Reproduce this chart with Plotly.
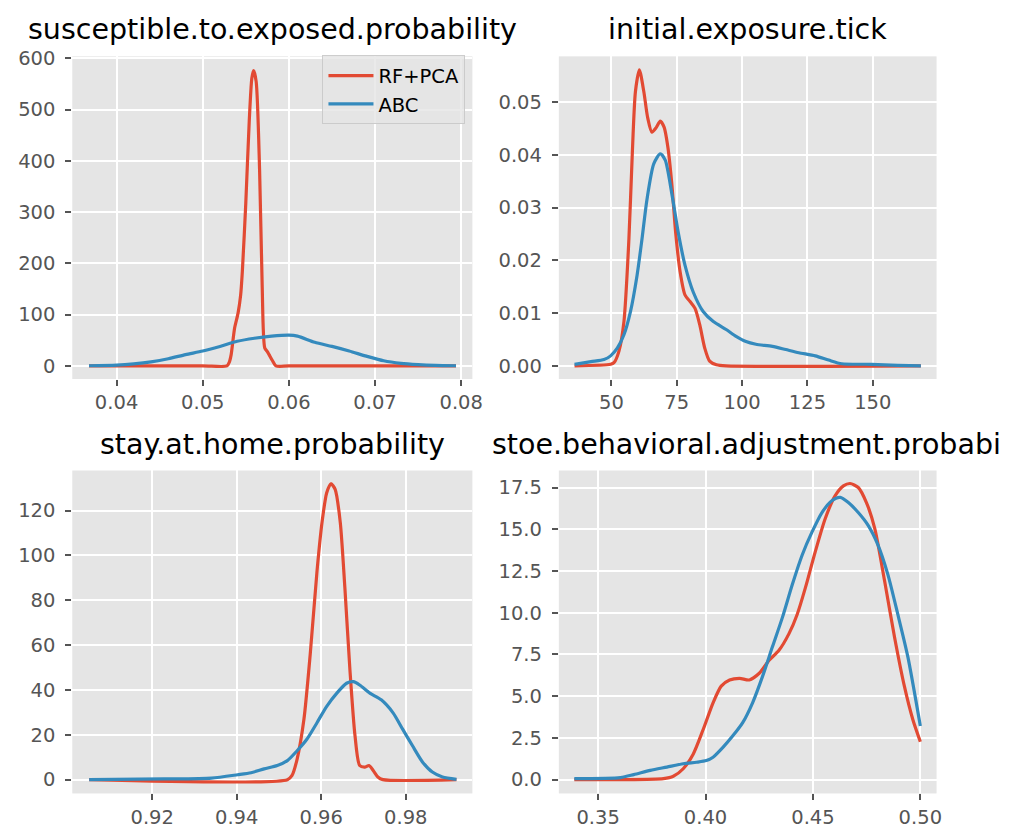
import plotly.graph_objects as go

W, H = 1035, 829
RED = "#E24A33"
BLUE = "#348ABD"

# Panel titles as they appear (the last one is cut short in the source figure)
titles = ["susceptible.to.exposed.probability", "initial.exposure.tick",
          "stay.at.home.probability", "stoe.behavioral.adjustment.probabi"]
series_names = ["RF+PCA", "ABC"]

# Panel 1: susceptible.to.exposed.probability
p1_rf_x = [0.0368, 0.0500, 0.0528, 0.0531, 0.0533, 0.0537, 0.0541, 0.0544, 0.0546, 0.0550,
           0.0554, 0.0557, 0.0559, 0.0562, 0.0566, 0.0569, 0.0572, 0.0575, 0.0577, 0.0581,
           0.0585, 0.0600, 0.0794]
p1_rf_y = [0, 0, 0, 8, 22, 74, 103, 138, 185, 318, 478, 561, 576, 555, 382, 157, 35, 28, 22, 10,
           0, 0, 0]
p1_abc_x = [0.0368, 0.040, 0.042, 0.044, 0.046, 0.048, 0.050, 0.052, 0.054, 0.056, 0.058, 0.060,
            0.061, 0.063, 0.065, 0.067, 0.069, 0.071, 0.073, 0.075, 0.077, 0.0794]
p1_abc_y = [0.3, 1.5, 4, 8, 14, 22, 29, 38, 48, 54, 58, 60, 58, 46, 38, 29, 19, 10, 5, 2.5, 1, 0.3]

# Panel 2: initial.exposure.tick
p2_rf_x = [35.9, 49.7, 51.0, 52.9, 54.8, 56.7, 57.95, 59.2, 60.7, 62.4, 63.9, 65.5, 67.2, 68.7,
           70.2, 71.6, 73.1, 74.6, 76.3, 78.2, 80.1, 82.0, 83.8, 85.7, 87.6, 90.2, 93.9, 168.4]
p2_rf_y = [0, 0.0003, 0.0006, 0.0028, 0.0084, 0.024, 0.0396, 0.052, 0.0561, 0.052, 0.047, 0.0443,
           0.0452, 0.0464, 0.0452, 0.0415, 0.0346, 0.0252, 0.0178, 0.0134, 0.0122, 0.0109, 0.0078,
           0.0034, 0.0009, 0.0002, 0, 0]
p2_abc_x = [35.9, 42.2, 47.2, 49.7, 52.3, 54.8, 57.3, 59.8, 61.7, 63.6, 66.2, 68.7, 70.6, 73.1,
            75.6, 78.2, 81.3, 85.1, 89.0, 93.9, 97.7, 101.5, 105.3, 111.6, 116.7, 121.7, 128.0,
            133.1, 138.1, 149.5, 159.6, 168.4]
p2_abc_y = [0.0003, 0.0008, 0.0012, 0.0019, 0.0034, 0.0059, 0.0103, 0.0171, 0.024, 0.0315, 0.0383,
            0.0402, 0.039, 0.0327, 0.0252, 0.019, 0.014, 0.0103, 0.0084, 0.0069, 0.0056, 0.0046,
            0.0041, 0.0037, 0.0031, 0.0025, 0.0019, 0.0011, 0.0004, 0.0003, 0.0001, 0]

# Panel 3: stay.at.home.probability
p3_rf_x = [0.9051, 0.9520, 0.9531, 0.9543, 0.9559, 0.9574, 0.9590, 0.9602, 0.9613, 0.9623,
           0.9633, 0.9645, 0.9656, 0.9668, 0.9680, 0.9691, 0.9703, 0.9713, 0.9723, 0.9734,
           0.9746, 0.9920]
p3_rf_y = [0, 0, 1.9, 9.2, 26.8, 56, 92.9, 114.9, 128, 132, 129.5, 114.9, 85.5, 48.8, 19.5, 6.3,
           5.6, 6.3, 4.1, 1.2, 0, 0]
p3_abc_x = [0.9051, 0.9230, 0.9340, 0.9402, 0.9434, 0.9465, 0.9496, 0.9520, 0.9543, 0.9566,
            0.9590, 0.9613, 0.9637, 0.9660, 0.9676, 0.9691, 0.9715, 0.9742, 0.9770, 0.9793,
            0.9816, 0.9840, 0.9863, 0.9887, 0.9920]
p3_abc_y = [0, 0.3, 0.7, 2.2, 3.1, 4.8, 6.3, 8.5, 12.9, 18, 25.4, 32.7, 38.6, 43, 43.7, 42.2,
            38.6, 35.6, 29.8, 22.4, 15.1, 7.8, 3.4, 1.2, 0.15]

# Panel 4: stoe.behavioral.adjustment.probability
p4_rf_x = [0.3389, 0.3604, 0.3804, 0.3850, 0.3896, 0.3943, 0.3989, 0.4035, 0.4073, 0.4112,
           0.4158, 0.4204, 0.4250, 0.4296, 0.4342, 0.4388, 0.4427, 0.4465, 0.4511, 0.4557,
           0.4603, 0.4642, 0.4673, 0.4711, 0.4749, 0.4788, 0.4834, 0.4880, 0.4926, 0.4965, 0.5000]
p4_rf_y = [0, 0, 0.06, 0.2, 0.65, 1.54, 3.0, 4.6, 5.6, 5.97, 6.07, 5.97, 6.37, 7.15, 7.75, 8.73,
           9.91, 11.5, 13.66, 15.63, 17.0, 17.6, 17.74, 17.5, 16.6, 15.04, 11.88, 8.53, 5.58, 3.6,
           2.27]
p4_abc_x = [0.3389, 0.3604, 0.3666, 0.3743, 0.3820, 0.3896, 0.3958, 0.4004, 0.4035, 0.4081,
            0.4127, 0.4173, 0.4219, 0.4265, 0.4311, 0.4358, 0.4404, 0.4450, 0.4496, 0.4542,
            0.4588, 0.4627, 0.4665, 0.4711, 0.4757, 0.4803, 0.4849, 0.4895, 0.4942, 0.5000]
p4_abc_y = [0.06, 0.12, 0.3, 0.55, 0.75, 0.95, 1.04, 1.14, 1.34, 1.93, 2.62, 3.41, 4.6, 6.17,
            7.94, 9.72, 11.69, 13.46, 14.84, 16.0, 16.71, 16.91, 16.6, 16.0, 15.23, 14.05, 12.28,
            9.91, 7.35, 3.21]

panels = [
    (p1_rf_x, p1_rf_y, p1_abc_x, p1_abc_y),
    (p2_rf_x, p2_rf_y, p2_abc_x, p2_abc_y),
    (p3_rf_x, p3_rf_y, p3_abc_x, p3_abc_y),
    (p4_rf_x, p4_rf_y, p4_abc_x, p4_abc_y),
]

# axis layout (pixels)
col_px = [(73, 477), (564.3, 945.7)]
row_px = [(48, 375), (467.7, 795)]
x_ranges = [[0.03486, 0.0813], [29.9, 174.4], [0.9011, 0.99577], [0.3317, 0.50756]]
y_ranges = [[-25.6, 603.8], [-0.00249, 0.05866], [-6.16, 137.9], [-0.83, 18.52]]
x_ticks = [[0.04, 0.05, 0.06, 0.07, 0.08], [50, 75, 100, 125, 150],
           [0.92, 0.94, 0.96, 0.98], [0.35, 0.40, 0.45, 0.50]]
x_fmt = [".2f", "d", ".2f", ".2f"]
y_ticks = [[0, 100, 200, 300, 400, 500, 600], [0, 0.01, 0.02, 0.03, 0.04, 0.05],
           [0, 20, 40, 60, 80, 100, 120], [0, 2.5, 5, 7.5, 10, 12.5, 15, 17.5]]
y_fmt = ["d", ".2f", "d", ".1f"]

def fmt(v, f):
    return str(int(round(v))) if f == "d" else format(v, f)

FONT = "DejaVu Sans"
fig = go.Figure()
layout = dict(width=W, height=H, margin=dict(l=0, r=0, t=0, b=0),
              paper_bgcolor="white", plot_bgcolor="#E5E5E5",
              font=dict(family=FONT, size=19, color="#555555"),
              showlegend=True, annotations=[])

title_left_px = [None, None, None, 495]  # panel 4 title positioned by its left edge
for i, (rx, ry, ax_, ay) in enumerate(panels):
    r, c = divmod(i, 2)
    sfx = "" if i == 0 else str(i + 1)
    xa, ya = "x" + sfx, "y" + sfx
    fig.add_trace(go.Scatter(x=rx, y=ry, mode="lines", name=series_names[0],
                             line=dict(color=RED, width=3.2, shape="spline", smoothing=0.7),
                             xaxis=xa, yaxis=ya, showlegend=(i == 0)))
    fig.add_trace(go.Scatter(x=ax_, y=ay, mode="lines", name=series_names[1],
                             line=dict(color=BLUE, width=3.2, shape="spline", smoothing=0.7),
                             xaxis=xa, yaxis=ya, showlegend=(i == 0)))
    x0, x1 = col_px[c]
    y0, y1 = row_px[r]
    common = dict(showgrid=True, gridcolor="white", gridwidth=1.5, zeroline=False,
                  showline=False, ticks="outside", ticklen=6, tickwidth=1.5,
                  tickcolor="#555555", tickfont=dict(family=FONT, size=19.5, color="#555555"))
    layout["xaxis" + sfx] = dict(domain=[x0 / W, x1 / W], anchor=ya, range=x_ranges[i],
                                 tickmode="array", tickvals=x_ticks[i],
                                 ticktext=[fmt(v, x_fmt[i]) for v in x_ticks[i]],
                                 ticklabelstandoff=0, **common)
    layout["yaxis" + sfx] = dict(domain=[1 - y1 / H, 1 - y0 / H], anchor=xa, range=y_ranges[i],
                                 tickmode="array", tickvals=y_ticks[i],
                                 ticktext=[fmt(v, y_fmt[i]) for v in y_ticks[i]],
                                 ticklabelstandoff=6, **common)
    title_y = [21, 441][r]
    if title_left_px[i] is None:
        tx, anchor = (x0 + x1) / 2 / W, "center"
    else:
        tx, anchor = title_left_px[i] / W, "left"
    layout["annotations"].append(dict(text=titles[i], x=tx, y=1 - title_y / H,
                                      xref="paper", yref="paper", xanchor=anchor, yanchor="middle",
                                      showarrow=False, font=dict(family=FONT, size=28.5, color="black")))

layout["legend"] = dict(x=470 / W, y=1 - 47 / H, xanchor="right", yanchor="top",
                        bgcolor="rgba(229,229,229,0.8)", bordercolor="rgba(200,200,200,0.9)",
                        borderwidth=1, itemwidth=45,
                        font=dict(family=FONT, size=19.5, color="black"))
fig.update_layout(**layout)
fig.write_html("out.html")
